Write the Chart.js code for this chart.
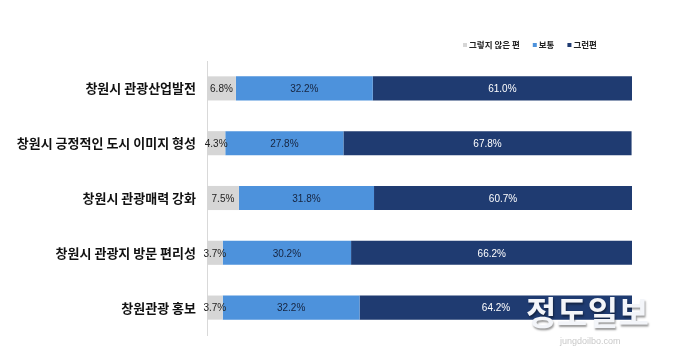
<!DOCTYPE html>
<html lang="ko">
<head>
<meta charset="utf-8">
<script src="https://cdn.jsdelivr.net/npm/chart.js@4.4.1/dist/chart.umd.min.js"></script>
<style>
    html, body { margin: 0; padding: 0; background: #ffffff; }
    #wrap { position: relative; width: 680px; height: 362px; }
    #survey_chart { display: block; }
    .mark_big {
        position: absolute; left: 526px; top: 295px;
        font-family: "Noto Sans CJK KR", sans-serif; font-weight: 700;
        font-size: 33px; letter-spacing: 0.5px; line-height: 1; color: #f3f5f9;
        text-shadow: 1px 2px 2px rgba(0, 0, 0, 0.4);
    }
    .mark_small {
        position: absolute; left: 560px; top: 337px;
        font-family: "Liberation Sans", Arial, sans-serif;
        font-size: 9px; line-height: 1; color: #c9c9c9;
    }
</style>
</head>
<body>
<div id="wrap">
    <canvas id="survey_chart" width="680" height="362"></canvas>
    <div class="mark_big">정도일보</div>
    <div class="mark_small">jungdoilbo.com</div>
</div>
<script>
var categories = ['창원시 관광산업발전', '창원시 긍정적인 도시 이미지 형성', '창원시 관광매력 강화', '창원시 관광지 방문 편리성', '창원관광 홍보'];
var series_names = ['그렇지 않은 편', '보통', '그런편'];
var not_so = [6.8, 4.3, 7.5, 3.7, 3.7];
var average = [32.2, 27.8, 31.8, 30.2, 32.2];
var so = [61.0, 67.8, 60.7, 66.2, 64.2];
var colours = ['#d6d6d6', '#4d92dc', '#1f3b71'];
var label_colours = ['#222222', '#16243f', '#ffffff'];

// draws the percent values inside each bar segment
var value_labels = {
    id: 'value_labels',
    afterDatasetsDraw: function (chart) {
        var ctx = chart.ctx;
        ctx.save();
        ctx.font = '10px "Liberation Sans Narrow", "Liberation Sans", Arial, sans-serif';
        ctx.textAlign = 'center';
        ctx.textBaseline = 'middle';
        chart.data.datasets.forEach(function (ds, i) {
            var meta = chart.getDatasetMeta(i);
            ctx.fillStyle = label_colours[i];
            meta.data.forEach(function (bar, j) {
                var mid = (bar.x + bar.base) / 2;
                ctx.fillText(ds.data[j].toFixed(1) + '%', mid, bar.y + 1);
            });
        });
        ctx.restore();
    }
};

// small legend in the top right corner
var corner_legend = {
    id: 'corner_legend',
    afterDraw: function (chart) {
        var ctx = chart.ctx;
        ctx.save();
        ctx.font = 'bold 8.5px "Noto Sans CJK KR", sans-serif';
        ctx.textBaseline = 'middle';
        var x = 463;
        var y = 45;
        chart.data.datasets.forEach(function (ds) {
            ctx.fillStyle = ds.backgroundColor;
            ctx.fillRect(x, y - 2, 4, 4);
            ctx.fillStyle = '#222222';
            ctx.fillText(ds.label, x + 6, y);
            x += 6 + ctx.measureText(ds.label).width + 13;
        });
        ctx.restore();
    }
};

var survey_chart = new Chart(document.getElementById('survey_chart').getContext('2d'), {
    type: 'bar',
    data: {
        labels: categories,
        datasets: [
            { label: series_names[0], data: not_so, backgroundColor: colours[0] },
            { label: series_names[1], data: average, backgroundColor: colours[1] },
            { label: series_names[2], data: so, backgroundColor: colours[2] }
        ]
    },
    options: {
        indexAxis: 'y',
        responsive: false,
        animation: false,
        layout: {
            padding: { left: 0, right: 48, top: 61, bottom: 27 }
        },
        datasets: {
            bar: { barPercentage: 0.44, categoryPercentage: 1 }
        },
        plugins: {
            legend: { display: false },
            tooltip: { enabled: false }
        },
        scales: {
            x: {
                stacked: true,
                min: 0,
                max: 100,
                display: false
            },
            y: {
                stacked: true,
                afterFit: function (scale) {
                    scale.width = 207;
                },
                grid: { display: true, drawOnChartArea: false, drawTicks: false },
                border: { display: true, color: '#d9d9d9', width: 1 },
                ticks: {
                    padding: 11,
                    color: '#111111',
                    font: { family: '"Noto Sans CJK KR", sans-serif', size: 13, weight: 'bold' }
                }
            }
        }
    },
    plugins: [value_labels, corner_legend]
});
</script>
</body>
</html>
